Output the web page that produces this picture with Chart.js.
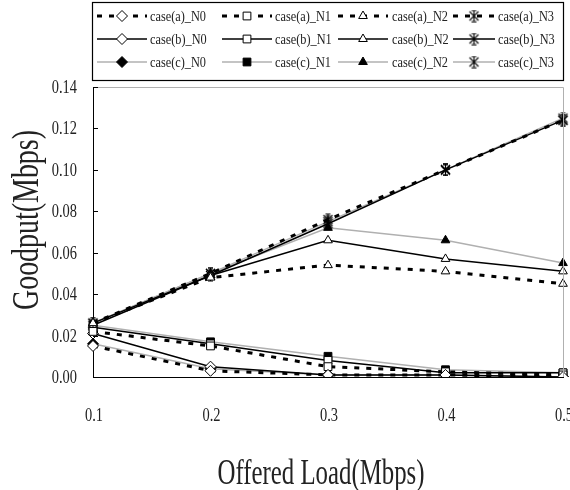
<!DOCTYPE html>
<html>
<head>
<meta charset="utf-8">
<script src="https://cdn.jsdelivr.net/npm/chart.js@4/dist/chart.umd.min.js"></script>
<style>
  html, body { margin: 0; padding: 0; background: #fff; }
  #wrap { width: 570px; height: 490px; position: relative; }
</style>
</head>
<body>
<div id="wrap"><canvas id="goodput"></canvas></div>
<script>
// Offered load on the x axis, goodput (Mbps) on the y axis
const loads = ['0.1', '0.2', '0.3', '0.4', '0.5'];

const caseA_N0 = [0.015, 0.003, 0.001, 0.001, 0.000];
const caseA_N1 = [0.022, 0.015, 0.005, 0.0025, 0.001];
const caseA_N2 = [0.026, 0.048, 0.054, 0.051, 0.045];
const caseA_N3 = [0.026, 0.050, 0.076, 0.100, 0.124];

const caseB_N0 = [0.021, 0.005, 0.001, 0.001, 0.000];
const caseB_N1 = [0.024, 0.016, 0.008, 0.002, 0.002];
const caseB_N2 = [0.026, 0.049, 0.066, 0.057, 0.051];
const caseB_N3 = [0.025, 0.049, 0.074, 0.100, 0.124];

const caseC_N0 = [0.016, 0.004, 0.001, 0.001, 0.000];
const caseC_N1 = [0.025, 0.017, 0.010, 0.0035, 0.002];
const caseC_N2 = [0.026, 0.050, 0.072, 0.066, 0.055];
const caseC_N3 = [0.026, 0.050, 0.075, 0.100, 0.125];

const yTicks = [0, 0.02, 0.04, 0.06, 0.08, 0.10, 0.12, 0.14];

const FONT = '"Liberation Serif", "Times New Roman", serif';
const GREY = '#b0b0b0';
const TEXT = '#222';

// Excel-like star marker: an X with a vertical stroke
function makeStar() {
  const c = document.createElement('canvas');
  c.width = 13; c.height = 13;
  const g = c.getContext('2d');
  g.strokeStyle = '#000';
  g.lineWidth = 1.1;
  g.beginPath();
  g.moveTo(2, 2); g.lineTo(11, 11);
  g.moveTo(11, 2); g.lineTo(2, 11);
  g.moveTo(6.5, 1); g.lineTo(6.5, 12);
  g.moveTo(4, 1); g.lineTo(9, 1);
  g.moveTo(4, 12); g.lineTo(9, 12);
  g.stroke();
  return c;
}
const starImg = makeStar();

// line look for each case
const styles = {
  a: { color: '#000', width: 3, dash: [5, 7], fill: '#fff' },
  b: { color: '#000', width: 1.5, dash: [], fill: '#fff' },
  c: { color: GREY, width: 1.5, dash: [], fill: '#000' }
};
const markers = [
  { style: 'rectRot', radius: 5.5 },
  { style: 'rect', radius: 5.5 },
  { style: 'triangle', radius: 5 },
  { style: starImg, radius: 6 }
];

function series(label, data, c, n) {
  const s = styles[c];
  const m = markers[n];
  return {
    label,
    data,
    borderColor: s.color,
    borderWidth: s.width,
    borderDash: s.dash,
    tension: 0,
    pointStyle: m.style,
    pointRadius: m.radius,
    pointBackgroundColor: s.fill,
    pointBorderColor: '#000',
    pointBorderWidth: 1
  };
}

const datasets = [
  series('case(a)_N0', caseA_N0, 'a', 0),
  series('case(a)_N1', caseA_N1, 'a', 1),
  series('case(a)_N2', caseA_N2, 'a', 2),
  series('case(a)_N3', caseA_N3, 'a', 3),
  series('case(b)_N0', caseB_N0, 'b', 0),
  series('case(b)_N1', caseB_N1, 'b', 1),
  series('case(b)_N2', caseB_N2, 'b', 2),
  series('case(b)_N3', caseB_N3, 'b', 3),
  series('case(c)_N0', caseC_N0, 'c', 0),
  series('case(c)_N1', caseC_N1, 'c', 1),
  series('case(c)_N2', caseC_N2, 'c', 2),
  series('case(c)_N3', caseC_N3, 'c', 3)
];

// the original uses a tall narrow serif, so squeeze the text horizontally
function narrowText(ctx, text, x, y, size, sx, align, baseline, rot) {
  ctx.save();
  ctx.translate(x, y);
  if (rot) ctx.rotate(rot);
  ctx.scale(sx, 1);
  ctx.font = size + 'px ' + FONT;
  ctx.textAlign = align;
  ctx.textBaseline = baseline;
  ctx.fillText(text, 0, 0);
  ctx.restore();
}

function fitScale(ctx, text, size, width) {
  ctx.save();
  ctx.font = size + 'px ' + FONT;
  const w = ctx.measureText(text).width;
  ctx.restore();
  return width / w;
}

// axis labels and titles, legend box, plot frame and inner ticks
const framePlugin = {
  id: 'frame',
  afterDraw(chart) {
    const ctx = chart.ctx;
    const area = chart.chartArea;
    const xs = chart.scales.x;
    const ys = chart.scales.y;
    ctx.save();
    // grey top/right frame
    ctx.strokeStyle = GREY;
    ctx.lineWidth = 1;
    ctx.beginPath();
    ctx.moveTo(area.left, area.top + 0.5);
    ctx.lineTo(area.right + 0.5, area.top + 0.5);
    ctx.lineTo(area.right + 0.5, area.bottom);
    ctx.stroke();
    // inner ticks on the y axis
    ctx.strokeStyle = '#000';
    ctx.beginPath();
    ys.ticks.forEach(t => {
      const py = Math.round(ys.getPixelForValue(t.value)) + 0.5;
      ctx.moveTo(area.left, py);
      ctx.lineTo(area.left + 5, py);
    });
    ctx.stroke();

    // tick labels
    ctx.fillStyle = TEXT;
    ys.ticks.forEach(t => {
      narrowText(ctx, t.value.toFixed(2), 77, ys.getPixelForValue(t.value) + 1, 19, 0.76, 'right', 'middle');
    });
    xs.ticks.forEach((t, i) => {
      narrowText(ctx, xs.getLabelForValue(t.value), xs.getPixelForTick(i) + 1, 416, 19, 0.76, 'center', 'middle');
    });

    // axis titles
    const xt = 'Offered Load(Mbps)';
    narrowText(ctx, xt, 321, 484, 36, fitScale(ctx, xt, 36, 207), 'center', 'alphabetic');
    const yt = 'Goodput(Mbps)';
    narrowText(ctx, yt, 38, 220, 38, fitScale(ctx, yt, 38, 180), 'center', 'alphabetic', -Math.PI / 2);

    // legend
    const box = { left: 92.5, top: 2.5, right: 563.5, bottom: 80.5 };
    ctx.strokeStyle = '#000';
    ctx.lineWidth = 1.2;
    ctx.strokeRect(box.left, box.top, box.right - box.left, box.bottom - box.top);
    const lineX = [97, 222, 338, 453];
    const lineLen = [50, 50, 50, 42];
    const textX = [150, 275, 392, 498];
    const rowY = [16, 39, 62];
    chart.data.datasets.forEach((ds, i) => {
      const r = Math.floor(i / 4);
      const c = i % 4;
      const x0 = lineX[c];
      const yy = rowY[r];
      ctx.save();
      ctx.strokeStyle = ds.borderColor;
      ctx.lineWidth = ds.borderWidth;
      ctx.setLineDash(ds.borderDash);
      ctx.beginPath();
      ctx.moveTo(x0, yy);
      ctx.lineTo(x0 + lineLen[c], yy);
      ctx.stroke();
      ctx.restore();
      ctx.save();
      ctx.fillStyle = ds.pointBackgroundColor;
      ctx.strokeStyle = ds.pointBorderColor;
      ctx.lineWidth = 1;
      Chart.helpers.drawPoint(ctx, {
        pointStyle: ds.pointStyle,
        radius: ds.pointRadius,
        rotation: 0,
        borderWidth: 1
      }, x0 + lineLen[c] / 2, yy);
      ctx.restore();
      ctx.fillStyle = TEXT;
      narrowText(ctx, ds.label, textX[c], yy + 1, 15, 0.82, 'left', 'middle');
    });
    ctx.restore();
  }
};

new Chart(document.getElementById('goodput'), {
  type: 'line',
  data: { labels: loads, datasets },
  options: {
    responsive: true,
    maintainAspectRatio: false,
    animation: false,
    layout: { padding: { top: 87, right: 7, left: 0, bottom: 0 } },
    plugins: {
      legend: { display: false },
      tooltip: { enabled: false }
    },
    scales: {
      x: {
        offset: false,
        afterFit: s => { s.height = 113; s.paddingLeft = 0; s.paddingRight = 0; },
        grid: { display: false, drawTicks: false },
        border: { display: true, color: '#000', width: 1 },
        ticks: { display: false }
      },
      y: {
        min: 0,
        max: 0.14,
        afterFit: s => { s.width = 93; s.paddingTop = 0; s.paddingBottom = 0; },
        afterBuildTicks: s => { s.ticks = yTicks.map(v => ({ value: v })); },
        grid: { display: false, drawTicks: false },
        border: { display: true, color: '#000', width: 1 },
        ticks: { display: false }
      }
    }
  },
  plugins: [framePlugin]
});
</script>
</body>
</html>
